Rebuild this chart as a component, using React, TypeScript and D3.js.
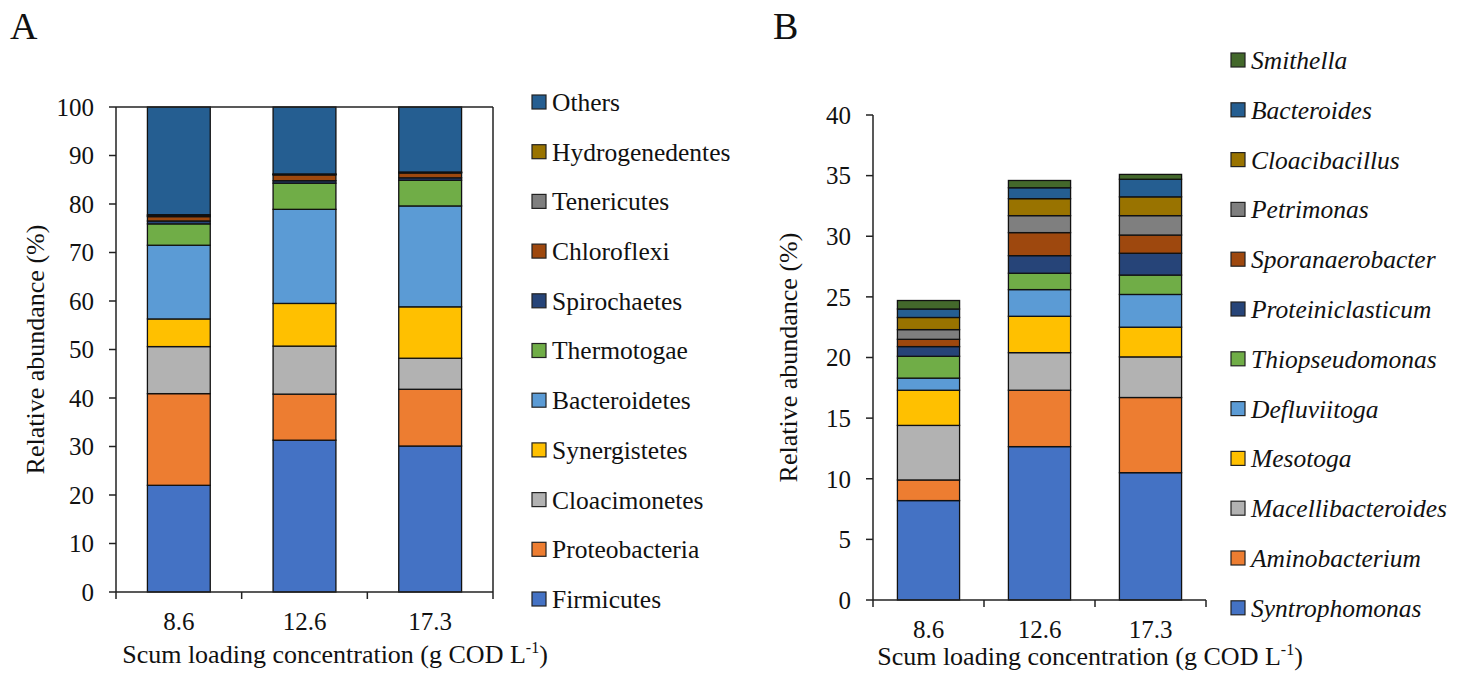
import React from "react";
import * as d3 from "d3";

// x categories (scum loading, g COD/L)
const loadings = ["8.6", "12.6", "17.3"];

// Panel A - phylum level, bottom to top
const phyla = [
  "Firmicutes", "Proteobacteria", "Cloacimonetes", "Synergistetes", "Bacteroidetes",
  "Thermotogae", "Spirochaetes", "Chloroflexi", "Tenericutes", "Hydrogenedentes", "Others",
];
const firmicutes = [22.0, 31.3, 30.1];
const proteobacteria = [18.9, 9.5, 11.7];
const cloacimonetes = [9.7, 9.9, 6.4];
const synergistetes = [5.7, 8.8, 10.6];
const bacteroidetes = [15.2, 19.4, 20.8];
const thermotogae = [4.4, 5.4, 5.3];
const spirochaetes = [0.6, 0.5, 0.5];
const chloroflexi = [0.9, 1.2, 1.0];
const tenericutes = [0.2, 0.1, 0.1];
const hydrogenedentes = [0.2, 0.1, 0.1];
const others = [22.2, 13.8, 13.4];
const phylaValues = [
  firmicutes, proteobacteria, cloacimonetes, synergistetes, bacteroidetes,
  thermotogae, spirochaetes, chloroflexi, tenericutes, hydrogenedentes, others,
];
const ticksA = [0, 10, 20, 30, 40, 50, 60, 70, 80, 90, 100];

// Panel B - genus level, bottom to top
const genera = [
  "Syntrophomonas", "Aminobacterium", "Macellibacteroides", "Mesotoga", "Defluviitoga",
  "Thiopseudomonas", "Proteiniclasticum", "Sporanaerobacter", "Petrimonas",
  "Cloacibacillus", "Bacteroides", "Smithella",
];
const syntrophomonas = [8.2, 12.65, 10.5];
const aminobacterium = [1.7, 4.65, 6.2];
const macellibacteroides = [4.5, 3.1, 3.35];
const mesotoga = [2.9, 3.0, 2.45];
const defluviitoga = [1.0, 2.2, 2.7];
const thiopseudomonas = [1.8, 1.35, 1.6];
const proteiniclasticum = [0.8, 1.45, 1.8];
const sporanaerobacter = [0.6, 1.9, 1.5];
const petrimonas = [0.8, 1.4, 1.6];
const cloacibacillus = [1.0, 1.4, 1.55];
const bacteroides = [0.7, 0.9, 1.45];
const smithella = [0.7, 0.6, 0.4];
const generaValues = [
  syntrophomonas, aminobacterium, macellibacteroides, mesotoga, defluviitoga,
  thiopseudomonas, proteiniclasticum, sporanaerobacter, petrimonas,
  cloacibacillus, bacteroides, smithella,
];
const ticksB = [0, 5, 10, 15, 20, 25, 30, 35, 40];

const palette = [
  "#4472C4", "#ED7D31", "#B2B2B2", "#FFC000", "#5B9BD5", "#70AD47",
  "#264478", "#9E480E", "#7F7F7F", "#997300", "#255E91", "#43682B",
];

const FONT = "Liberation Serif, DejaVu Serif, serif";
const txt = { fontFamily: FONT };

type PanelProps = {
  letter: string;
  letterX: number;
  names: string[];
  values: number[][];
  ticks: number[];
  x0: number; x1: number; y0: number; y1: number;
  pad: number;
  boxed: boolean;
  italic: boolean;
  legendX: number; legendY0: number; legendStep: number;
  yTitleX: number; xTitleX: number; xTitleY: number;
};

function Panel(p: PanelProps) {
  const rows = loadings.map((l, i) => {
    const r: any = { load: l };
    p.names.forEach((n, k) => (r[n] = p.values[k][i]));
    return r;
  });
  const stacked = d3.stack<any>().keys(p.names)(rows);
  const x = d3.scaleBand().domain(loadings).range([p.x0, p.x1])
    .paddingInner(p.pad).paddingOuter(p.pad / 2);
  const y = d3.scaleLinear().domain([0, p.ticks[p.ticks.length - 1]]).range([p.y0, p.y1]);
  const color = d3.scaleOrdinal<string, string>().domain(p.names).range(palette);
  const step = x.step();
  const xTicks = d3.range(loadings.length + 1).map(i => p.x0 + i * step);

  return (
    <g fill="#111">
      <text x={p.letterX} y={39} fontSize={38} style={txt}>{p.letter}</text>

      {stacked.map(layer => (
        <g key={layer.key} fill={color(layer.key)}>
          {layer.map((d, i) => (
            <rect key={i}
              x={x(loadings[i])}
              y={y(d[1])}
              width={x.bandwidth()}
              height={Math.max(0, y(d[0]) - y(d[1]))}
              stroke="#111" strokeWidth={1.3} />
          ))}
        </g>
      ))}

      {/* axes */}
      <g stroke="#222" strokeWidth={1.5} fill="none">
        <line x1={p.x0} x2={p.x0} y1={p.y0} y2={p.y1} />
        <line x1={p.x0} x2={p.x1} y1={p.y0} y2={p.y0} />
        {p.boxed && <line x1={p.x0} x2={p.x1} y1={p.y1} y2={p.y1} />}
        {p.boxed && <line x1={p.x1} x2={p.x1} y1={p.y0} y2={p.y1} />}
        {p.ticks.map(t => (
          <line key={t} x1={p.x0 - 7} x2={p.x0} y1={y(t)} y2={y(t)} />
        ))}
        {xTicks.map((t, i) => (
          <line key={i} x1={t} x2={t} y1={p.y0} y2={p.y0 + 7} />
        ))}
      </g>
      {p.ticks.map(t => (
        <text key={t} x={p.x0 - 22} y={y(t)} dy="0.35em" textAnchor="end" fontSize={25} style={txt}>{t}</text>
      ))}
      {loadings.map(l => (
        <text key={l} x={(x(l) as number) + x.bandwidth() / 2} y={p.y0 + 38}
          textAnchor="middle" fontSize={25} style={txt}>{l}</text>
      ))}

      <text transform={`translate(${p.yTitleX},${(p.y0 + p.y1) / 2}) rotate(-90)`}
        textAnchor="middle" fontSize={26} style={txt}>Relative abundance (%)</text>
      <text x={p.xTitleX} y={p.xTitleY} textAnchor="middle" fontSize={26} style={txt}>
        Scum loading concentration (g COD L<tspan fontSize={16} dy={-10}>-1</tspan>
        <tspan dy={10}>)</tspan>
      </text>

      {/* legend, top entry is the last series */}
      {p.names.slice().reverse().map((n, i) => {
        const cy = p.legendY0 + i * p.legendStep;
        return (
          <g key={n}>
            <rect x={p.legendX} y={cy - 7} width={14} height={14}
              fill={color(n)} stroke="#222" strokeWidth={1.2} />
            <text x={p.legendX + 20} y={cy} dy="0.35em" fontSize={25.5}
              style={{ ...txt, fontStyle: p.italic ? "italic" : "normal" }}>{n}</text>
          </g>
        );
      })}
    </g>
  );
}

export default function App() {
  return (
    <div style={{ position: "fixed", left: 0, top: 0 }}>
      <svg width={1466} height={679} style={{ display: "block", background: "#fff" }}>
        <Panel letter="A" letterX={10} names={phyla} values={phylaValues} ticks={ticksA}
          x0={116} x1={493} y0={592} y1={107} pad={0.5} boxed={true} italic={false}
          legendX={532} legendY0={102} legendStep={49.7}
          yTitleX={44} xTitleX={335} xTitleY={663} />
        <Panel letter="B" letterX={773} names={genera} values={generaValues} ticks={ticksB}
          x0={873} x1={1206} y0={600} y1={115} pad={0.44} boxed={false} italic={true}
          legendX={1231} legendY0={60} legendStep={49.8}
          yTitleX={797} xTitleX={1090} xTitleY={665} />
      </svg>
    </div>
  );
}
